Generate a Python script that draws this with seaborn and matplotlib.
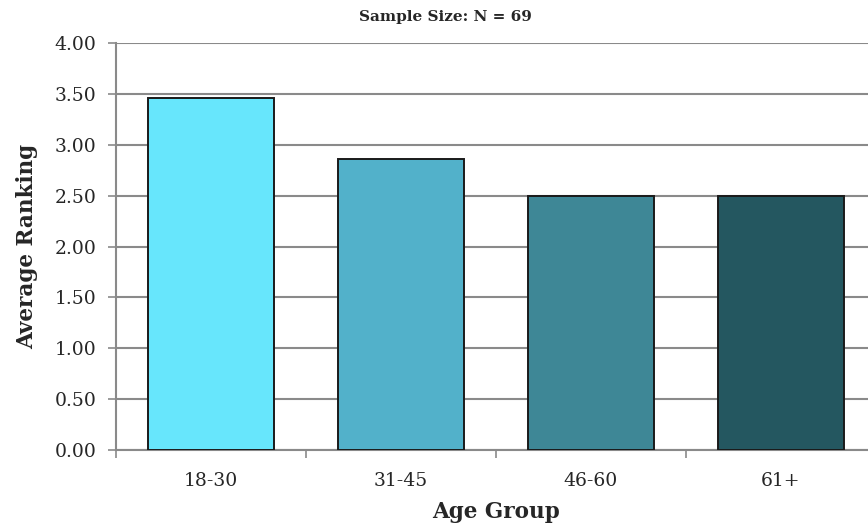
import matplotlib
matplotlib.use("Agg")
import matplotlib.pyplot as plt
import seaborn as sns
import pandas as pd

# Average ranking by age group
age_groups = ["18-30", "31-45", "46-60", "61+"]
avg_ranking = [3.46, 2.86, 2.50, 2.50]
bar_colors = ["#67E6FC", "#52B1CA", "#3E8796", "#245760"]
y_ticks = [0.0, 0.5, 1.0, 1.5, 2.0, 2.5, 3.0, 3.5, 4.0]

df = pd.DataFrame({"Age Group": age_groups, "Average Ranking": avg_ranking})

sns.set_style("white")
plt.rcParams["font.family"] = ["DejaVu Serif"]

fig = plt.figure(figsize=(8.68, 5.31), dpi=100)
ax = fig.add_axes([116 / 868, 81 / 531, 760 / 868, 407 / 531])

sns.barplot(data=df, x="Age Group", y="Average Ranking", hue="Age Group",
            palette=bar_colors, saturation=1, legend=False, width=0.66,
            edgecolor="#1a1a1a", linewidth=1.4, ax=ax, zorder=3)

ax.set_xlim(-0.5, len(age_groups) - 0.5)
ax.set_ylim(0, 4.0)
ax.set_yticks(y_ticks)
ax.set_yticklabels([f"{t:.2f}" for t in y_ticks], fontsize=13.5)
ax.yaxis.grid(True, color="#8a8a8a", linewidth=1.5, zorder=0)
ax.set_axisbelow(True)

# category labels centred, tick marks on category boundaries
ax.tick_params(axis="x", which="major", length=0, labelsize=13.5, pad=16)
ax.set_xticks([i - 0.5 for i in range(len(age_groups) + 1)], minor=True)
ax.tick_params(axis="x", which="minor", length=6, width=1.2, color="#8a8a8a",
               direction="out", bottom=True)
ax.tick_params(axis="y", length=6, width=1.2, color="#8a8a8a",
               direction="out", left=True, pad=8)

for side in ["top", "right"]:
    ax.spines[side].set_visible(False)
for side in ["left", "bottom"]:
    ax.spines[side].set_color("#8a8a8a")
    ax.spines[side].set_linewidth(1.5)

ax.set_xlabel("Age Group", fontsize=15.5, fontweight="bold", labelpad=8)
ax.set_ylabel("Average Ranking", fontsize=15.5, fontweight="bold", labelpad=12)

fig.text(445 / 868, 1 - 17 / 531, "Sample Size: N = 69", ha="center", va="center",
         fontsize=11, fontweight="bold")

fig.savefig("out.png", dpi=100)
